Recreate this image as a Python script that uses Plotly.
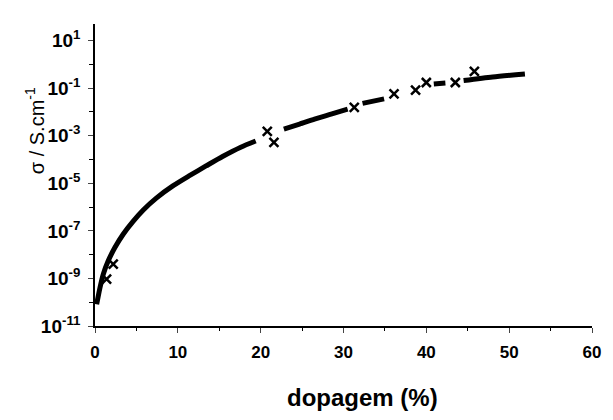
import plotly.graph_objects as go

# Continuous fitted curve (None = gap around the data markers)
curve_x = [0.2, 0.6, 1.0, 1.6, 2.4, 3.4, 4.6, 5.8, 7.4, 9.4, 11.4, 13.4, 15.4, 17.6, 19.4,
           None, 22.8, 24.7, 26.5, 28.5, 30.5,
           None, 32.3, 34.9,
           None, 40.9, 42.3,
           None, 44.5, 48.0, 51.9]
curve_log = [-10.09, -9.39, -8.82, -8.26, -7.70, -7.14, -6.60, -6.13, -5.62, -5.11, -4.68, -4.27, -3.87, -3.48, -3.22,
             None, -2.72, -2.51, -2.30, -2.09, -1.88,
             None, -1.64, -1.45,
             None, -0.82, -0.78,
             None, -0.68, -0.53, -0.40]

# Measured points (x markers)
pts_x = [1.4, 2.2, 20.8, 21.6, 31.3, 36.1, 38.7, 40.0, 43.5, 45.8]
pts_log = [-9.03, -8.40, -2.82, -3.28, -1.81, -1.24, -1.08, -0.76, -0.76, -0.29]

x_ticks = [0, 10, 20, 30, 40, 50, 60]
x_minor = [5, 15, 25, 35, 45, 55]
y_tickvals = [1e1, 1e-1, 1e-3, 1e-5, 1e-7, 1e-9, 1e-11]
y_ticktext = ["10<sup>1</sup>", "10<sup>-1</sup>", "10<sup>-3</sup>", "10<sup>-5</sup>",
              "10<sup>-7</sup>", "10<sup>-9</sup>", "10<sup>-11</sup>"]
y_minor = [1e0, 1e-2, 1e-4, 1e-6, 1e-8, 1e-10]

x_title = "dopagem (%)"
y_title = "σ / S.cm<sup>-1</sup>"

curve_y = [None if v is None else 10 ** v for v in curve_log]
pts_y = [10 ** v for v in pts_log]

fig = go.Figure()
fig.add_trace(go.Scatter(x=curve_x, y=curve_y, mode="lines",
                         line=dict(color="black", width=5, shape="spline", smoothing=0.7),
                         connectgaps=False, showlegend=False))
fig.add_trace(go.Scatter(x=pts_x, y=pts_y, mode="markers",
                         marker=dict(symbol="x-thin-open", size=9, color="black",
                                     line=dict(color="black", width=2.5)),
                         showlegend=False))

font_family = "Liberation Sans, Arial, sans-serif"

fig.update_layout(
    width=613, height=420,
    margin=dict(l=95, r=17, t=24, b=94),
    paper_bgcolor="white", plot_bgcolor="white",
    font=dict(family=font_family, color="black"),
    xaxis=dict(range=[0, 60], tickvals=x_ticks, ticks="outside", ticklen=5, tickwidth=1.2,
               showline=True, linecolor="black", linewidth=1.5, showgrid=False, zeroline=False,
               tickfont=dict(size=17, family=font_family, weight="bold"),
               minor=dict(tickvals=x_minor, ticks="outside", ticklen=3, tickwidth=1, tickcolor="black"),
               ticklabelstandoff=5),
    yaxis=dict(type="log", range=[-11, 1.7], tickvals=y_tickvals, ticktext=y_ticktext,
               ticks="outside", ticklen=5, tickwidth=1.2,
               showline=True, linecolor="black", linewidth=1.5, showgrid=False, zeroline=False,
               tickfont=dict(size=19, family=font_family, weight="bold"),
               minor=dict(tickvals=y_minor, ticks="outside", ticklen=4, tickwidth=1, tickcolor="black"),
               ticklabelstandoff=4),
    annotations=[
        dict(text=x_title, xref="paper", yref="paper", x=0.539, y=-0.238,
             xanchor="center", yanchor="middle", showarrow=False,
             font=dict(size=24, family=font_family, weight="bold", color="black")),
        dict(text=y_title, xref="paper", yref="paper", x=-0.12, y=0.646,
             xanchor="center", yanchor="middle", textangle=-90, showarrow=False,
             font=dict(size=20, family=font_family, color="black")),
    ],
)

fig.write_html("out.html")
